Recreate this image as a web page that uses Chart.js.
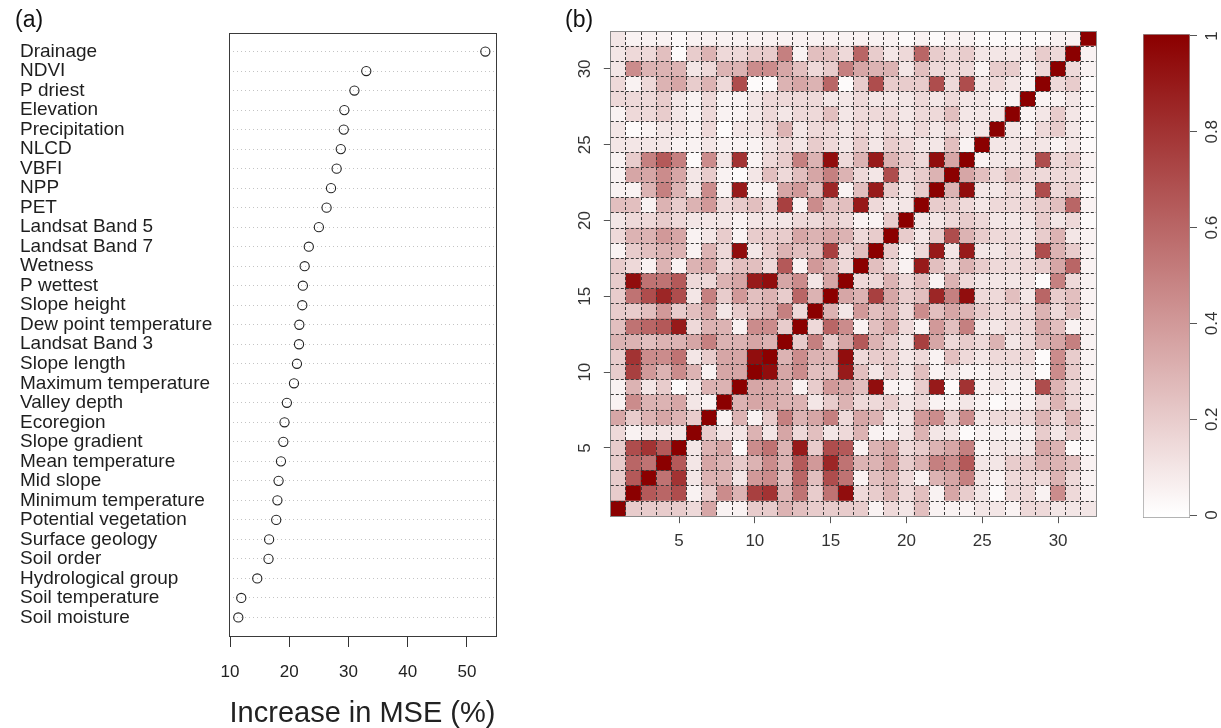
<!DOCTYPE html>
<html>
<head>
<meta charset="utf-8">
<script src="https://cdn.jsdelivr.net/npm/chart.js@4.4.1/dist/chart.umd.min.js"></script>
<style>
  html, body { margin: 0; padding: 0; background: #fff; }
  #wrap { position: relative; width: 1221px; height: 728px; overflow: hidden; font-family: "Liberation Sans", Arial, sans-serif; }
  canvas { position: absolute; top: 0; }
  .tag { position: absolute; font-size: 23px; color: #111; }
</style>
</head>
<body>
<div id="wrap">
  <canvas id="dots" width="560" height="728" style="left:0"></canvas>
  <canvas id="heat" width="570" height="728" style="left:540px"></canvas>
  <canvas id="scale" width="111" height="728" style="left:1110px"></canvas>
  <div class="tag" style="left:15px;top:6px">(a)</div>
  <div class="tag" style="left:565px;top:6px">(b)</div>
</div>
<script>
// (a) variable importance
const variables = [
  'Drainage', 'NDVI', 'P driest', 'Elevation', 'Precipitation', 'NLCD', 'VBFI', 'NPP', 'PET',
  'Landsat Band 5', 'Landsat Band 7', 'Wetness', 'P wettest', 'Slope height',
  'Dew point temperature', 'Landsat Band 3', 'Slope length', 'Maximum temperature',
  'Valley depth', 'Ecoregion', 'Slope gradient', 'Mean temperature', 'Mid slope',
  'Minimum temperature', 'Potential vegetation', 'Surface geology', 'Soil order',
  'Hydrological group', 'Soil temperature', 'Soil moisture'
];
const mseIncrease = [
  53.1, 33.0, 31.0, 29.3, 29.2, 28.7, 28.0, 27.05, 26.3, 25.0, 23.3, 22.6, 22.3, 22.2,
  21.7, 21.65, 21.3, 20.8, 19.6, 19.2, 19.0, 18.6, 18.2, 18.0, 17.8, 16.6, 16.5, 14.6, 11.9, 11.4
];
const mseTicks = [10, 20, 30, 40, 50];

// (b) correlation matrix, lower triangle: row r holds r(r, 1..r-1)
const corrLower = [
  [],
  [0.2],
  [0.2, 0.65],
  [0.2, 0.6, 0.55],
  [0.2, 0.7, 0.8, 0.65],
  [0.15, 0.05, 0.1, 0.1, 0.1],
  [0.35, 0.2, 0.3, 0.35, 0.3, 0.2],
  [0.05, 0.45, 0.3, 0.3, 0.35, 0.1, 0.05],
  [0.05, 0.3, 0.1, 0.2, 0.02, 0.1, 0.3, 0.3],
  [0.2, 0.75, 0.4, 0.3, 0.45, 0.3, 0.05, 0.35, 0.35],
  [0.2, 0.8, 0.45, 0.45, 0.55, 0.1, 0.2, 0.35, 0.35, 0.95],
  [0.3, 0.3, 0.25, 0.3, 0.3, 0.35, 0.5, 0.3, 0.3, 0.35, 0.3],
  [0.25, 0.55, 0.6, 0.65, 0.9, 0.15, 0.3, 0.3, 0.05, 0.45, 0.45, 0.2],
  [0.2, 0.2, 0.25, 0.4, 0.2, 0.25, 0.35, 0.1, 0.2, 0.25, 0.3, 0.5, 0.15],
  [0.2, 0.55, 0.7, 0.85, 0.7, 0.1, 0.5, 0.2, 0.4, 0.25, 0.3, 0.2, 0.6, 0.3],
  [0.2, 0.95, 0.55, 0.55, 0.65, 0.15, 0.15, 0.3, 0.35, 0.9, 0.95, 0.35, 0.45, 0.1, 0.35],
  [0.2, 0.15, 0.05, 0.3, 0.05, 0.3, 0.35, 0.15, 0.25, 0.25, 0.15, 0.65, 0.05, 0.4, 0.3, 0.15],
  [0.05, 0.2, 0.25, 0.3, 0.3, 0.05, 0.3, 0.15, 0.95, 0.1, 0.2, 0.3, 0.25, 0.25, 0.75, 0.15, 0.25],
  [0.15, 0.3, 0.3, 0.4, 0.35, 0.05, 0.1, 0.2, 0.05, 0.2, 0.2, 0.2, 0.35, 0.3, 0.35, 0.3, 0.15, 0.2],
  [0.1, 0.15, 0.15, 0.2, 0.15, 0.1, 0.1, 0.1, 0.05, 0.1, 0.1, 0.1, 0.15, 0.15, 0.2, 0.15, 0.05, 0.05, 0.2],
  [0.25, 0.25, 0.05, 0.3, 0.2, 0.3, 0.4, 0.15, 0.2, 0.25, 0.15, 0.75, 0.05, 0.45, 0.25, 0.25, 0.9, 0.15, 0.1, 0.1],
  [0.05, 0.05, 0.3, 0.5, 0.3, 0.1, 0.45, 0.05, 0.9, 0.05, 0.05, 0.35, 0.4, 0.25, 0.85, 0.05, 0.25, 0.9, 0.2, 0.1, 0.2],
  [0.05, 0.35, 0.35, 0.45, 0.35, 0.1, 0.2, 0.05, 0.02, 0.1, 0.25, 0.15, 0.25, 0.35, 0.5, 0.3, 0.15, 0.1, 0.7, 0.15, 0.2, 0.3],
  [0.05, 0.2, 0.5, 0.65, 0.5, 0.02, 0.45, 0.1, 0.8, 0.05, 0.15, 0.2, 0.5, 0.3, 0.95, 0.15, 0.3, 0.9, 0.3, 0.2, 0.15, 0.95, 0.35],
  [0.1, 0.1, 0.1, 0.1, 0.05, 0.05, 0.1, 0.05, 0.05, 0.05, 0.1, 0.15, 0.1, 0.2, 0.15, 0.1, 0.2, 0.1, 0.2, 0.15, 0.1, 0.1, 0.25, 0.05],
  [0.1, 0.02, 0.05, 0.1, 0.1, 0.05, 0.15, 0.02, 0.1, 0.1, 0.15, 0.3, 0.1, 0.15, 0.15, 0.1, 0.15, 0.1, 0.15, 0.1, 0.15, 0.1, 0.15, 0.1, 0.1],
  [0.05, 0.15, 0.15, 0.2, 0.1, 0.05, 0.15, 0.05, 0.05, 0.1, 0.15, 0.1, 0.15, 0.15, 0.25, 0.1, 0.15, 0.15, 0.15, 0.1, 0.15, 0.15, 0.25, 0.1, 0.1, 0.1],
  [0.15, 0.15, 0.15, 0.2, 0.1, 0.05, 0.15, 0.05, 0.05, 0.1, 0.15, 0.15, 0.15, 0.15, 0.1, 0.1, 0.15, 0.1, 0.1, 0.1, 0.15, 0.1, 0.15, 0.1, 0.1, 0.05, 0.05],
  [0.15, 0.05, 0.15, 0.3, 0.35, 0.2, 0.3, 0.15, 0.7, 0.02, 0.02, 0.3, 0.35, 0.3, 0.6, 0.02, 0.2, 0.7, 0.2, 0.2, 0.2, 0.7, 0.15, 0.7, 0.1, 0.15, 0.1, 0.05],
  [0.1, 0.45, 0.3, 0.3, 0.3, 0.1, 0.15, 0.3, 0.3, 0.45, 0.45, 0.35, 0.25, 0.15, 0.2, 0.5, 0.35, 0.3, 0.3, 0.1, 0.25, 0.15, 0.15, 0.15, 0.05, 0.2, 0.2, 0.05, 0.15],
  [0.1, 0.15, 0.15, 0.25, 0.02, 0.2, 0.3, 0.15, 0.15, 0.2, 0.2, 0.5, 0.05, 0.25, 0.25, 0.15, 0.6, 0.2, 0.1, 0.15, 0.6, 0.2, 0.15, 0.2, 0.1, 0.1, 0.1, 0.1, 0.2, 0.15],
  [0.1, 0.05, 0.05, 0.05, 0.02, 0.05, 0.05, 0.05, 0.05, 0.05, 0.05, 0.05, 0.05, 0.05, 0.05, 0.05, 0.05, 0.05, 0.05, 0.02, 0.05, 0.02, 0.05, 0.05, 0.02, 0.02, 0.02, 0.02, 0.02, 0.05, 0.05]
];
const corrTicks = [5, 10, 15, 20, 25, 30];
const colourTicks = [0, 0.2, 0.4, 0.6, 0.8, 1];
const colourLimits = [-0.006, 1.004];

Chart.defaults.font.family = '"Liberation Sans", Arial, sans-serif';

// white -> darkred ramp
function corrColour(v) {
  const r = Math.round(255 - 116 * v);
  const g = Math.round(255 - 255 * v);
  return `rgb(${r},${g},${g})`;
}

// box round the dot chart plot region
const boxPlugin = {
  id: 'box',
  afterDraw(chart) {
    const { ctx, chartArea: a } = chart;
    ctx.save();
    ctx.strokeStyle = '#3a3a3a';
    ctx.lineWidth = 1;
    ctx.strokeRect(Math.round(a.left) + 0.5, Math.round(a.top) + 0.5,
      Math.round(a.right - a.left), Math.round(a.bottom - a.top));
    ctx.restore();
  }
};

// ---- (a) dot chart
const nVar = variables.length;
new Chart(document.getElementById('dots'), {
  type: 'scatter',
  data: {
    datasets: [{
      data: mseIncrease.map((v, i) => ({ x: v, y: nVar - i })),
      pointRadius: 4.6,
      pointBorderWidth: 1.1,
      pointBorderColor: '#222',
      pointBackgroundColor: 'rgba(255,255,255,0)'
    }]
  },
  options: {
    responsive: false,
    animation: false,
    devicePixelRatio: 1,
    layout: { padding: { left: 20, top: 33, right: 64, bottom: 0 } },
    plugins: { legend: { display: false }, tooltip: { enabled: false } },
    scales: {
      x: {
        type: 'linear', min: 9.83, max: 54.9,
        afterBuildTicks: s => { s.ticks = mseTicks.map(v => ({ value: v })); },
        afterFit: s => { s.height = 92; },
        grid: { drawOnChartArea: false, drawTicks: true, tickLength: 11, color: '#333' },
        border: { display: false },
        ticks: { font: { size: 17 }, color: '#222', padding: 15, maxRotation: 0 },
        title: { display: true, text: 'Increase in MSE (%)', font: { size: 29, lineHeight: 1 }, color: '#222', padding: 0 }
      },
      y: {
        type: 'linear', min: 0.05, max: 30.95,
        afterBuildTicks: s => { s.ticks = variables.map((_, i) => ({ value: nVar - i })); },
        afterFit: s => { s.width = 209; },
        grid: { drawTicks: false, color: '#c4c4c4' },
        border: { display: false, dash: [1, 3] },
        ticks: {
          crossAlign: 'far', autoSkip: false, padding: 0, color: '#1e1e1e',
          font: { size: 19, lineHeight: 1 },
          callback: v => variables[nVar - v]
        }
      }
    }
  },
  plugins: [boxPlugin]
});

// ---- (b) correlation heat map
const corrIndex = corrLower.map((_, i) => i + 1);
const cellEdges = corrIndex.slice(0, -1).map(i => i + 0.5);
const corrAt = (r, c) => r === c ? 1 : (r > c ? corrLower[r - 1][c - 1] : corrLower[c - 1][r - 1]);

const heatSets = corrIndex.map(r => ({
  data: corrIndex.map(c => ({ x: c, y: [r - 0.5, r + 0.5] })),
  backgroundColor: corrIndex.map(c => corrColour(corrAt(r, c))),
  borderWidth: 0,
  grouped: false,
  barPercentage: 1,
  categoryPercentage: 1
}));

const frame = { display: true, color: '#8a8a8a', width: 1, z: 1 };

const tickAxis = (ticks, extra) => Object.assign({
  type: 'linear', min: 0.5, max: 32.5, offset: false,
  afterBuildTicks: s => { s.ticks = ticks.map(v => ({ value: v })); },
  grid: { drawOnChartArea: false, tickLength: 7, color: '#555', offset: false },
  border: frame,
  ticks: { font: { size: 17 }, color: '#333', autoSkip: false }
}, extra);

// dashed cell borders, drawn above the cells
const dashAxis = (position, fit) => ({
  type: 'linear', position, min: 0.5, max: 32.5, offset: false,
  afterBuildTicks: s => { s.ticks = cellEdges.map(v => ({ value: v })); },
  afterFit: fit,
  grid: { drawTicks: false, color: '#383838', lineWidth: 1, offset: false, z: 1 },
  border: Object.assign({ dash: [3, 2] }, frame),
  ticks: { display: false, autoSkip: false }
});

const xHeat = tickAxis(corrTicks, { afterFit: s => { s.height = 728 - 516.2; } });
xHeat.ticks = Object.assign({}, xHeat.ticks, { padding: 8, maxRotation: 0 });
const yHeat = tickAxis(corrTicks, { afterFit: s => { s.width = 70.8; } });
yHeat.ticks = Object.assign({}, yHeat.ticks, { padding: 9, minRotation: 90, maxRotation: 90, crossAlign: 'center' });

new Chart(document.getElementById('heat'), {
  type: 'bar',
  data: { datasets: heatSets },
  options: {
    responsive: false,
    animation: false,
    devicePixelRatio: 1,
    layout: { padding: { left: 0, top: 31, right: 14, bottom: 0 } },
    plugins: { legend: { display: false }, tooltip: { enabled: false } },
    scales: {
      x: xHeat,
      y: yHeat,
      xg: dashAxis('top', s => { s.height = 0; }),
      yg: dashAxis('right', s => { s.width = 0; })
    }
  }
});

// ---- colour key
new Chart(document.getElementById('scale'), {
  type: 'bar',
  data: {
    labels: ['r'],
    datasets: [{
      data: [colourLimits],
      backgroundColor: c => {
        const a = c.chart.chartArea;
        if (!a) return null;
        const y = c.chart.scales.y;
        const g = c.chart.ctx.createLinearGradient(0, y.getPixelForValue(0), 0, y.getPixelForValue(1));
        colourTicks.forEach(v => g.addColorStop(v, corrColour(v)));
        return g;
      },
      borderColor: '#9a9a9a',
      borderWidth: 1,
      borderSkipped: false,
      barPercentage: 1,
      categoryPercentage: 1
    }]
  },
  options: {
    responsive: false,
    animation: false,
    devicePixelRatio: 1,
    layout: { padding: { left: 33, top: 34, right: 0, bottom: 210 } },
    plugins: { legend: { display: false }, tooltip: { enabled: false } },
    scales: {
      x: { display: false },
      y: {
        position: 'right', min: colourLimits[0], max: colourLimits[1],
        afterBuildTicks: s => { s.ticks = colourTicks.map(v => ({ value: v })); },
        afterFit: s => { s.width = 31; },
        grid: { drawOnChartArea: false, tickLength: 7, color: '#555' },
        border: { display: false },
        ticks: {
          font: { size: 17 }, color: '#333', padding: 3,
          minRotation: 90, maxRotation: 90, crossAlign: 'center',
          callback: v => String(v)
        }
      }
    }
  }
});
</script>
</body>
</html>
